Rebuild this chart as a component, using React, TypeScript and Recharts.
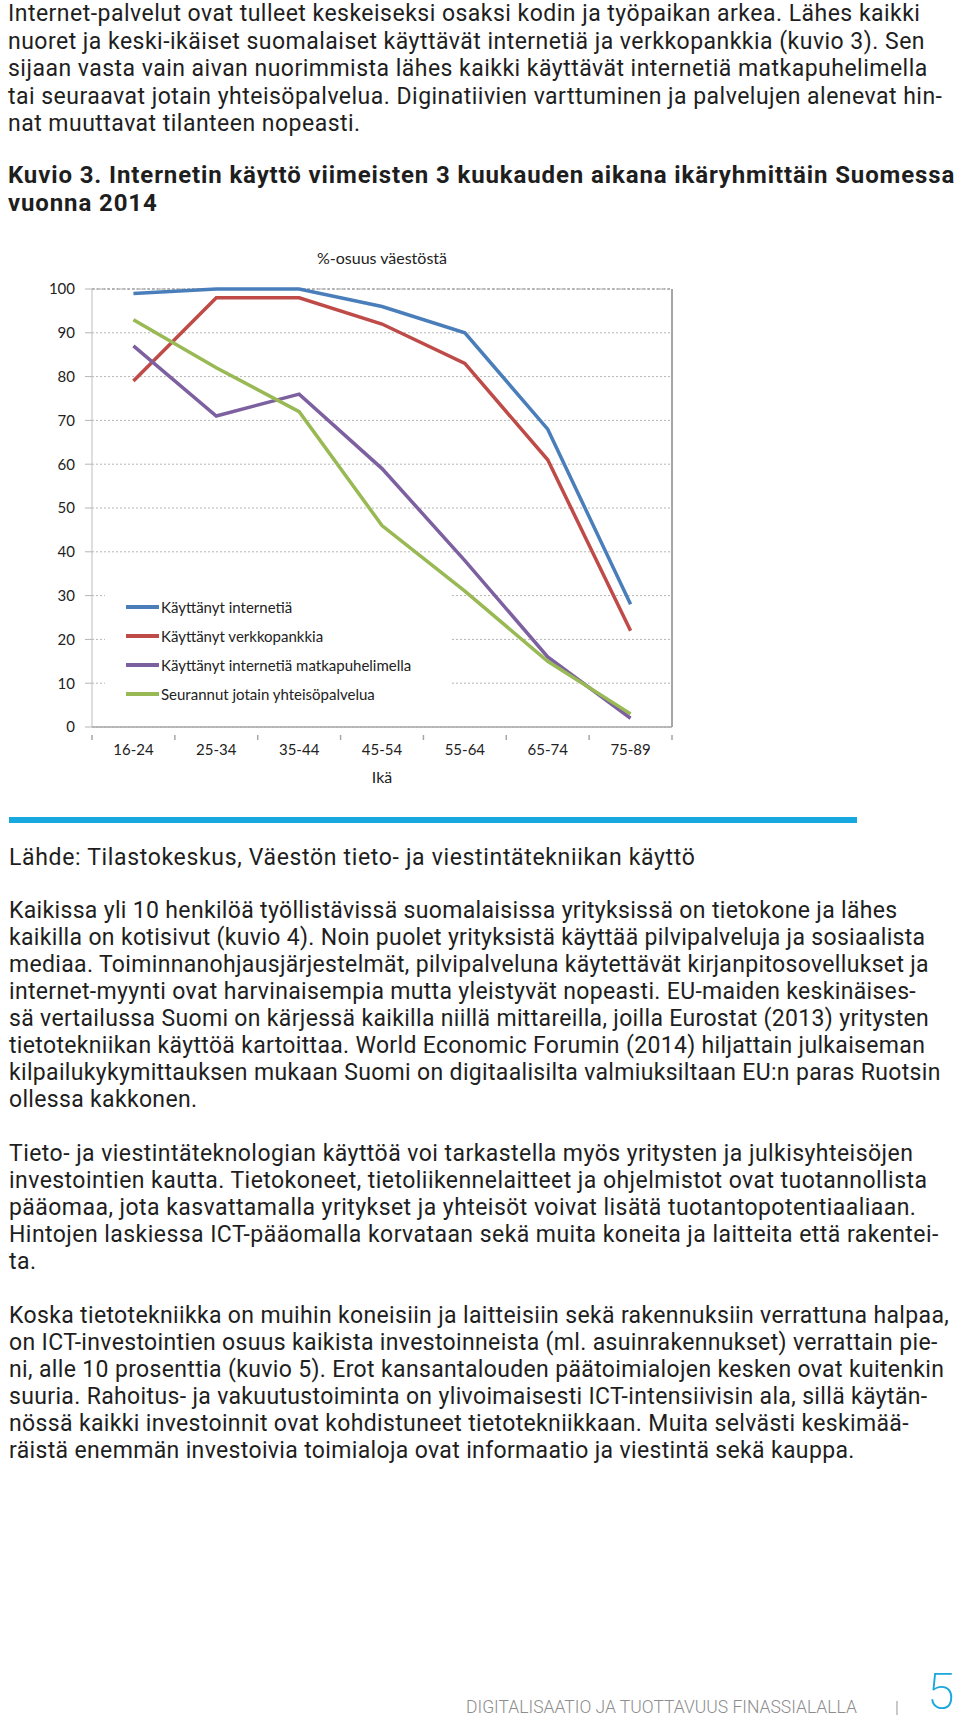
import { LineChart, Line, XAxis, YAxis, CartesianGrid, Legend, ReferenceLine } from "recharts";

const ageGroups = ["16-24", "25-34", "35-44", "45-54", "55-64", "65-74", "75-89"];
const internetUse = [99, 100, 100, 96, 90, 68, 28];
const onlineBanking = [79, 98, 98, 92, 83, 61, 22];
const mobileInternet = [87, 71, 76, 59, 38, 16, 2];
const socialMedia = [93, 82, 72, 46, 31, 15, 3];
const yTicks = [0, 10, 20, 30, 40, 50, 60, 70, 80, 90, 100];

const seriesKeys = ["internet", "banking", "mobile", "social"];
const seriesNames = [
  "Käyttänyt internetiä",
  "Käyttänyt verkkopankkia",
  "Käyttänyt internetiä matkapuhelimella",
  "Seurannut jotain yhteisöpalvelua",
];
const seriesColors = ["#4a7ebb", "#be4b48", "#7d60a0", "#98b954"];

const data = ageGroups.map((age, i) => ({
  age,
  internet: internetUse[i],
  banking: onlineBanking[i],
  mobile: mobileInternet[i],
  social: socialMedia[i],
}));

const para1 = [
  "Internet-palvelut ovat tulleet keskeiseksi osaksi kodin ja työpaikan arkea. Lähes kaikki",
  "nuoret ja keski-ikäiset suomalaiset käyttävät internetiä ja verkkopankkia (kuvio 3). Sen",
  "sijaan vasta vain aivan nuorimmista lähes kaikki käyttävät internetiä matkapuhelimella",
  "tai seuraavat jotain yhteisöpalvelua. Diginatiivien varttuminen ja palvelujen alenevat hin-",
  "nat muuttavat tilanteen nopeasti.",
];
const titleLines = [
  "Kuvio 3. Internetin käyttö viimeisten 3 kuukauden aikana ikäryhmittäin Suomessa",
  "vuonna 2014",
];
const sourceLine = "Lähde: Tilastokeskus, Väestön tieto- ja viestintätekniikan käyttö";
const para2 = [
  "Kaikissa yli 10 henkilöä työllistävissä suomalaisissa yrityksissä on tietokone ja lähes",
  "kaikilla on kotisivut (kuvio 4). Noin puolet yrityksistä käyttää pilvipalveluja ja sosiaalista",
  "mediaa. Toiminnanohjausjärjestelmät, pilvipalveluna käytettävät kirjanpitosovellukset ja",
  "internet-myynti ovat harvinaisempia mutta yleistyvät nopeasti. EU-maiden keskinäises-",
  "sä vertailussa Suomi on kärjessä kaikilla niillä mittareilla, joilla Eurostat (2013) yritysten",
  "tietotekniikan käyttöä kartoittaa. World Economic Forumin (2014) hiljattain julkaiseman",
  "kilpailukykymittauksen mukaan Suomi on digitaalisilta valmiuksiltaan EU:n paras Ruotsin",
  "ollessa kakkonen.",
];
const para3 = [
  "Tieto- ja viestintäteknologian käyttöä voi tarkastella myös yritysten ja julkisyhteisöjen",
  "investointien kautta. Tietokoneet, tietoliikennelaitteet ja ohjelmistot ovat tuotannollista",
  "pääomaa, jota kasvattamalla yritykset ja yhteisöt voivat lisätä tuotantopotentiaaliaan.",
  "Hintojen laskiessa ICT-pääomalla korvataan sekä muita koneita ja laitteita että rakentei-",
  "ta.",
];
const para4 = [
  "Koska tietotekniikka on muihin koneisiin ja laitteisiin sekä rakennuksiin verrattuna halpaa,",
  "on ICT-investointien osuus kaikista investoinneista (ml. asuinrakennukset) verrattain pie-",
  "ni, alle 10 prosenttia (kuvio 5). Erot kansantalouden päätoimialojen kesken ovat kuitenkin",
  "suuria. Rahoitus- ja vakuutustoiminta on ylivoimaisesti ICT-intensiivisin ala, sillä käytän-",
  "nössä kaikki investoinnit ovat kohdistuneet tietotekniikkaan. Muita selvästi keskimää-",
  "räistä enemmän investoivia toimialoja ovat informaatio ja viestintä sekä kauppa.",
];

const bodyFont = "Roboto, 'Noto Sans', sans-serif";
const chartFont = "Lato, 'Open Sans', sans-serif";

// plot box inside the chart svg
const PLOT_W = 580;
const HALF_BAND = PLOT_W / ageGroups.length / 2;

const Para = ({ lines, top, lh, left = 9, size = 23, weight = 400, spacing = 0.3 }: any) => (
  <div
    style={{
      position: "absolute",
      left,
      top,
      fontFamily: bodyFont,
      fontSize: size,
      fontWeight: weight,
      lineHeight: `${lh}px`,
      letterSpacing: spacing,
      color: "#1e1e1e",
      whiteSpace: "nowrap",
    }}
  >
    {lines.map((l: string, i: number) => (
      <div key={i}>{l}</div>
    ))}
  </div>
);

const AgeTick = (props: any) => {
  const { x, y, payload, index } = props;
  return (
    <g>
      <line x1={x - HALF_BAND} x2={x - HALF_BAND} y1={y} y2={y + 5} stroke="#a6a6a6" strokeWidth={1.5} />
      {index === ageGroups.length - 1 && (
        <line x1={x + HALF_BAND} x2={x + HALF_BAND} y1={y} y2={y + 5} stroke="#a6a6a6" strokeWidth={1.5} />
      )}
      <text x={x} y={y + 20} textAnchor="middle" fill="#222" fontSize={15} fontFamily={chartFont}>
        {payload.value}
      </text>
    </g>
  );
};

const LegendBox = () => (
  <div style={{ background: "#fff", width: 347, height: 122, paddingTop: 2.5, boxSizing: "border-box" }}>
    {seriesNames.map((name, i) => (
      <div key={name} style={{ display: "flex", alignItems: "center", height: 29 }}>
        <span style={{ display: "inline-block", marginLeft: 21, width: 33, height: 4, background: seriesColors[i] }} />
        <span style={{ marginLeft: 2, fontFamily: chartFont, fontSize: 15, color: "#222" }}>{name}</span>
      </div>
    ))}
  </div>
);

const AgeChart = () => (
  <div style={{ position: "absolute", left: 0, top: 230 }}>
    <div
      style={{
        position: "absolute",
        left: 0,
        width: 764,
        top: 18,
        textAlign: "center",
        fontFamily: chartFont,
        fontSize: 16,
        color: "#222",
      }}
    >
      %-osuus väestöstä
    </div>
    <LineChart width={760} height={570} data={data} margin={{ top: 59, right: 28, bottom: 13, left: 32 }}>
      <CartesianGrid vertical={false} stroke="#b5b5b5" strokeDasharray="2 2" />
      <ReferenceLine y={100} stroke="#8a8a8a" strokeDasharray="3 2" />
      <XAxis
        dataKey="age"
        height={60}
        interval={0}
        padding={{ left: HALF_BAND, right: HALF_BAND }}
        tickLine={false}
        tick={<AgeTick />}
        axisLine={{ stroke: "#a6a6a6", strokeWidth: 1.5 }}
        label={{ value: "Ikä", position: "insideBottom", offset: 4, fill: "#222", fontSize: 16, fontFamily: chartFont }}
      />
      <YAxis
        width={60}
        domain={[0, 100]}
        ticks={yTicks}
        interval={0}
        tickSize={7}
        tickMargin={10}
        tickLine={{ stroke: "#b5b5b5" }}
        axisLine={{ stroke: "#bdbdbd" }}
        tick={{ fill: "#222", fontSize: 15, fontFamily: chartFont }}
      />
      <YAxis
        yAxisId="right"
        orientation="right"
        width={60}
        domain={[0, 100]}
        ticks={yTicks}
        interval={0}
        tickSize={5}
        tickMargin={10}
        tickLine={{ stroke: "#a6a6a6" }}
        axisLine={{ stroke: "#a6a6a6", strokeWidth: 2 }}
        tick={{ fill: "#222", fontSize: 15, fontFamily: chartFont, textAnchor: "start" }}
      />
      <Legend
        layout="horizontal"
        verticalAlign="middle"
        align="center"
        content={() => <LegendBox />}
        wrapperStyle={{ left: 105, top: 360, width: 347, height: 122 }}
      />
      {seriesKeys.map((k, i) => (
        <Line
          key={k}
          type="linear"
          dataKey={k}
          name={seriesNames[i]}
          stroke={seriesColors[i]}
          strokeWidth={3.5}
          dot={false}
          activeDot={false}
          isAnimationActive={false}
        />
      ))}
    </LineChart>
  </div>
);

export default function App() {
  return (
    <div style={{ position: "absolute", left: 0, top: 0, width: 960, height: 1723, background: "#fff", overflow: "hidden" }}>
      <Para lines={para1} top={0} lh={27.5} spacing={0.48} left={8} />
      <Para lines={titleLines} top={160.75} lh={28.5} size={24} weight={700} spacing={0.88} left={8} />
      <AgeChart />
      <div style={{ position: "absolute", left: 9, top: 817, width: 848, height: 6, background: "#18a8e0" }} />
      <Para lines={[sourceLine]} top={845} lh={26} spacing={0.66} />
      <Para lines={para2} top={896.5} lh={27} spacing={0.33} />
      <Para lines={para3} top={1139.5} lh={27} spacing={0.45} />
      <Para lines={para4} top={1301.5} lh={27} spacing={0.35} />
      <div
        style={{
          position: "absolute",
          left: 466,
          top: 1697,
          fontFamily: bodyFont,
          fontWeight: 300,
          fontSize: 17.5,
          color: "#8d8d8d",
          whiteSpace: "nowrap",
        }}
      >
        DIGITALISAATIO JA TUOTTAVUUS FINASSIALALLA
      </div>
      <div style={{ position: "absolute", left: 895, top: 1697, fontFamily: bodyFont, fontWeight: 300, fontSize: 17, color: "#8d8d8d" }}>
        |
      </div>
      <div
        style={{
          position: "absolute",
          left: 927,
          top: 1672,
          fontFamily: bodyFont,
          fontWeight: 200,
          fontSize: 50,
          lineHeight: "40px",
          color: "#1aa7de",
        }}
      >
        5
      </div>
    </div>
  );
}
